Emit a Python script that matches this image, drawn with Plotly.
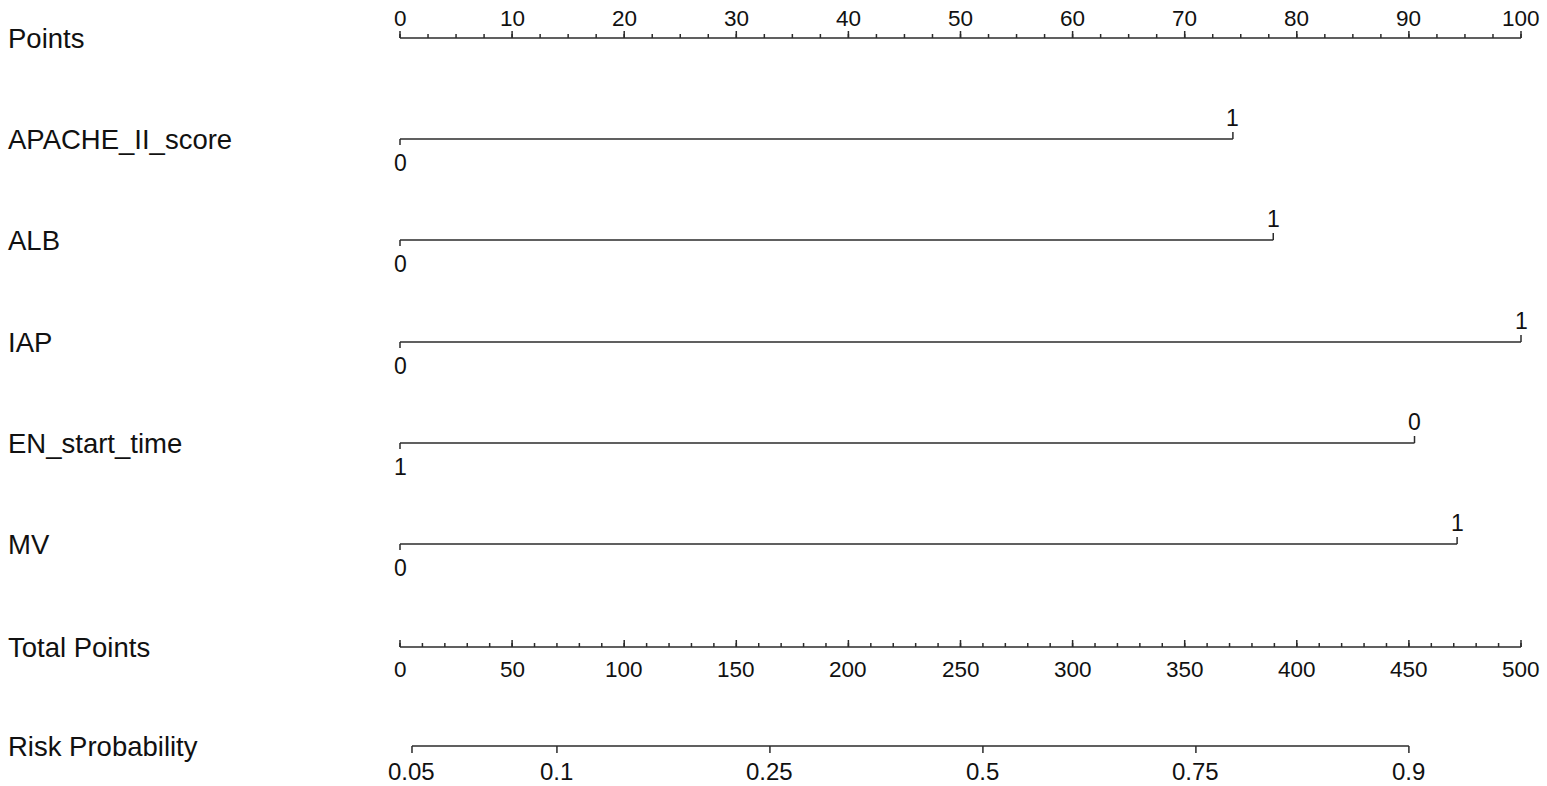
import plotly.graph_objects as go

# --- data ---
row_names = ["Points", "APACHE_II_score", "ALB", "IAP", "EN_start_time", "MV",
             "Total Points", "Risk Probability"]

points_major = list(range(0, 101, 10))
points_minor = [x * 2.5 for x in range(0, 41)]

var_names = ["APACHE_II_score", "ALB", "IAP", "EN_start_time", "MV"]
var_level_labels = [["0", "1"], ["0", "1"], ["0", "1"], ["1", "0"], ["0", "1"]]
var_level_points = [[0, 74.3], [0, 77.9], [0, 100], [0, 90.5], [0, 94.3]]

total_major = list(range(0, 501, 50))
total_minor = list(range(0, 501, 10))

risk_labels = ["0.05", "0.1", "0.25", "0.5", "0.75", "0.9"]
risk_total_points = [5.35, 70, 165, 260, 355, 450]

# --- layout helpers (pixel rows on y, points scale on x) ---
W, H = 1547, 786
x0_px, x100_px = 400, 1521
ppx = (x100_px - x0_px) / 100.0
row_y = [38, 139, 240, 342, 443, 544, 647, 746]
LINE = "#2b2b2b"
FONT = "Liberation Sans, Arial, sans-serif"

xs, ys = [], []
ann = []


def seg(xa, ya, xb, yb):
    xs.extend([xa, xb, None])
    ys.extend([ya, yb, None])


def label(x, y, t, size=22.5):
    ann.append(dict(x=x, y=y, text=t, showarrow=False, xanchor="center",
                    yanchor="middle", font=dict(size=size, color="#111", family=FONT)))


# Points axis (ticks up, labels above)
y = row_y[0]
seg(0, y, 100, y)
for p in points_minor:
    seg(p, y, p, y - 4)
for p in points_major:
    seg(p, y, p, y - 7)
    label(p, y - 20, str(p))

# variable rows
for i, name in enumerate(var_names):
    y = row_y[i + 1]
    pts = var_level_points[i]
    seg(min(pts), y, max(pts), y)
    for k, (p, t) in enumerate(zip(pts, var_level_labels[i])):
        if k % 2 == 0:
            seg(p, y, p, y + 6)
            label(p, y + 24, t, 23)
        else:
            seg(p, y, p, y - 7)
            label(p, y - 21, t, 23)

# Total points axis (ticks up, labels below)
y = row_y[6]
seg(0, y, 100, y)
for tp in total_minor:
    seg(tp / 5, y, tp / 5, y - 4)
for tp in total_major:
    seg(tp / 5, y, tp / 5, y - 7)
    label(tp / 5, y + 22, str(tp))

# Risk probability axis (ticks down, labels below)
y = row_y[7]
seg(risk_total_points[0] / 5, y, risk_total_points[-1] / 5, y)
for tp, t in zip(risk_total_points, risk_labels):
    seg(tp / 5, y, tp / 5, y + 7)
    label(tp / 5, y + 25, t, 24)

# row names
for name, yy in zip(row_names, row_y):
    ann.append(dict(x=8 / W, xref="paper", y=yy, text=name, showarrow=False,
                    xanchor="left", yanchor="middle", xshift=-2,
                    font=dict(size=27.5, color="#111", family=FONT)))

fig = go.Figure(go.Scatter(x=xs, y=ys, mode="lines",
                           line=dict(color=LINE, width=1.5),
                           hoverinfo="skip", showlegend=False))

fig.update_layout(
    width=W, height=H,
    margin=dict(l=0, r=0, t=0, b=0),
    paper_bgcolor="white", plot_bgcolor="white",
    xaxis=dict(range=[-x0_px / ppx, (W - x0_px) / ppx], visible=False),
    yaxis=dict(range=[H, 0], visible=False),
    annotations=ann,
)

# drop the default 8px page margin so the figure sits at the window corner
fig.write_html("out.html",
               config={"displayModeBar": False},
               post_script="document.body.style.margin='0px';document.body.style.overflow='hidden';")
